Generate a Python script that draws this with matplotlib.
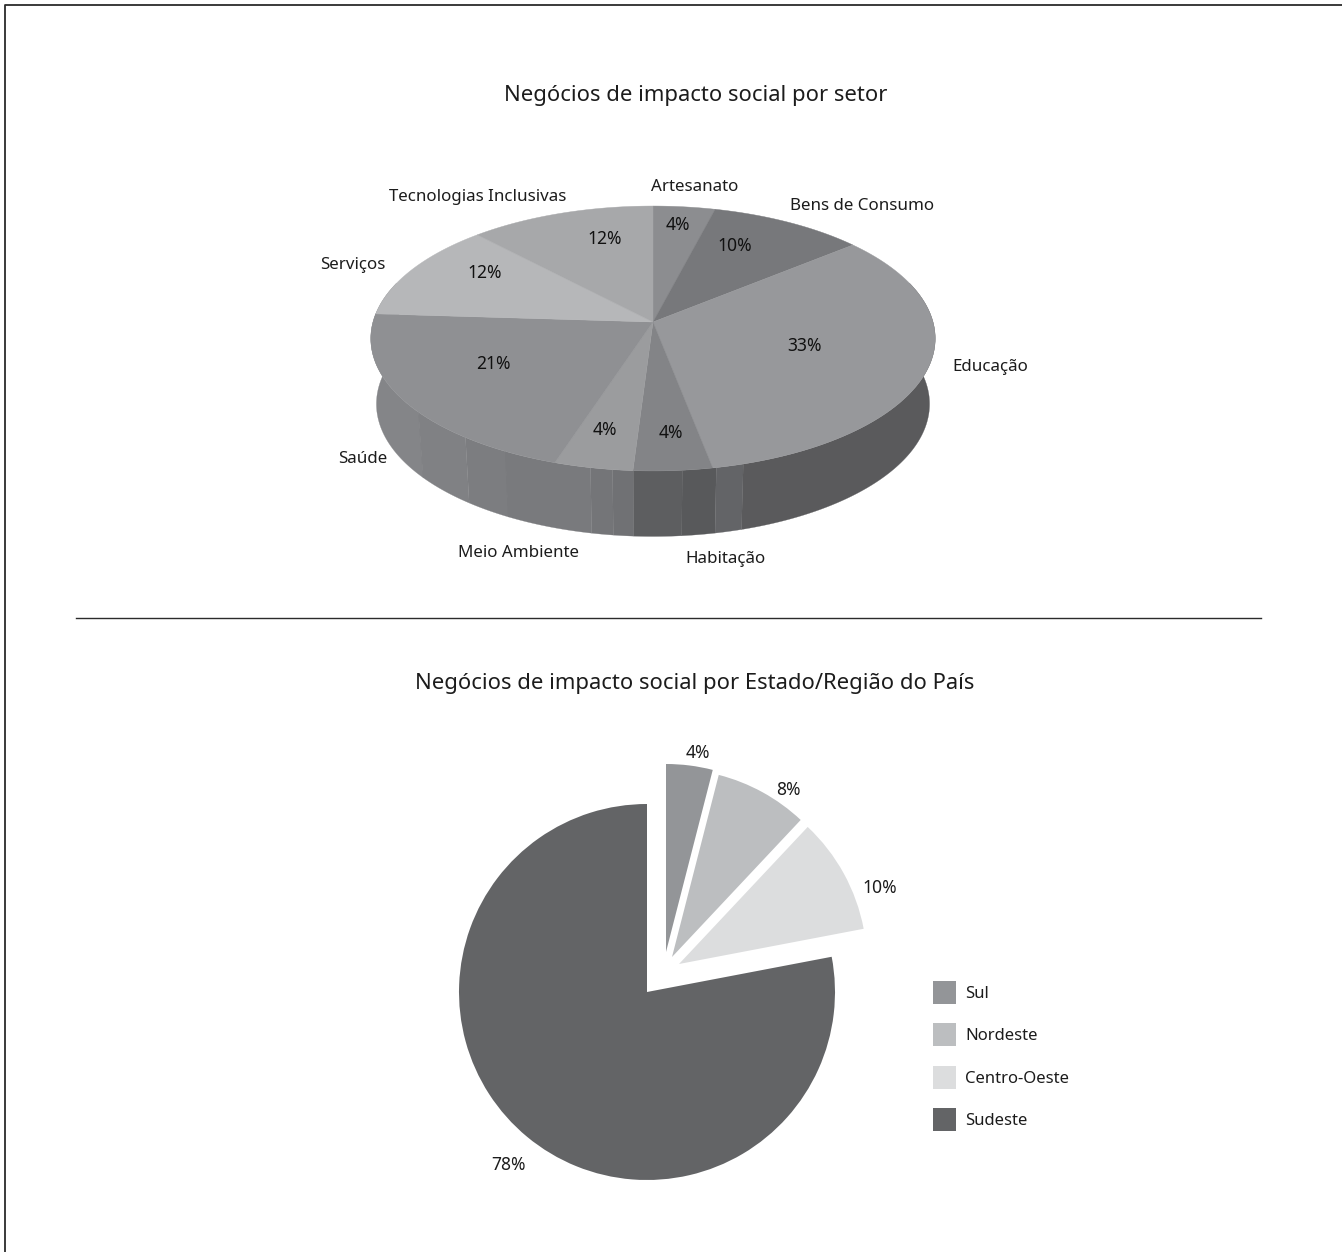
import matplotlib
matplotlib.use('Agg')
import matplotlib.pyplot as plt
import numpy as np

W, H = 1342, 1252

# data
setor_labels = ['Artesanato', 'Bens de Consumo', 'Educação', 'Habitação',
                'Meio Ambiente', 'Saúde', 'Serviços', 'Tecnologias Inclusivas']
setor_values = [4, 10, 33, 4, 4, 21, 12, 12]
regiao_labels = ['Sul', 'Nordeste', 'Centro-Oeste', 'Sudeste']
regiao_values = [4, 8, 10, 78]

# styles
setor_colors = ['#8c8d90', '#77787b', '#97989b', '#838487',
                '#9b9c9e', '#8f9093', '#b6b7b9', '#a7a8aa']
regiao_colors = ['#939598', '#bcbec0', '#dcddde', '#636466']
wall_breaks = [300, 418, 465, 505, 590, 612, 633, 682, 716, 743, 1000]
wall_colors = ['#848588', '#808184', '#7c7d80', '#797a7d', '#747578',
               '#707174', '#5d5e60', '#58595b', '#636467', '#5a5a5c']
# each exploded slice has its own shift in the source, not a radial one
regiao_shift = [(19, 40), (25, 35), (32, 28), (0, 0)]

setor_label_pos = [(651, 187), (790, 206), (952, 367), (685, 559),
                   (458, 553), (338, 459), (320, 265), (389, 197)]
setor_pct_pos = [(678, 225), (735, 246), (805, 346), (671, 433),
                 (605, 430), (493, 364), (485, 273), (605, 239)]
regiao_pct_pos = [(698, 753), (788, 790), (880, 888), (509, 1165)]

TEXT = '#1c1c1c'
plt.rcParams['font.family'] = ['Noto Sans', 'DejaVu Sans']


def py(y):
    """Image row to axes y."""
    return H - y


def persp(theta, depth=0.0, shrink=1.0):
    """Tilted disc with perspective. theta is clockwise from the top, in radians."""
    x, y = np.sin(theta), np.cos(theta)
    d = 1 + 0.1245 * y
    return 653 + shrink * 280 * x / d, 322 + depth - 130.4 * y / d


fig = plt.figure(figsize=(W / 100, H / 100), dpi=100)
ax = fig.add_axes([0, 0, 1, 1])

# lower pie
center = (647, py(992))
wedges, _ = ax.pie(regiao_values, colors=regiao_colors, startangle=90, counterclock=False,
                   radius=188, center=center)
for w, (dx, dy) in zip(wedges, regiao_shift):
    w.set_center((center[0] + dx, center[1] + dy))
    w.set_linewidth(0)

ax.set_aspect('auto')
ax.set_xlim(0, W)
ax.set_ylim(0, H)
ax.axis('off')

# side wall of the upper pie, front half only
t = np.linspace(np.pi * 0.4, np.pi * 1.6, 1500)
top_x, top_y = persp(t)
bot_x, bot_y = persp(t, depth=65.5, shrink=0.98)
for k, col in enumerate(wall_colors):
    m = (top_x >= wall_breaks[k]) & (top_x <= wall_breaks[k + 1] + 1)
    xs = np.r_[top_x[m], bot_x[m][::-1]]
    ys = np.r_[top_y[m], bot_y[m][::-1]]
    ax.fill(xs, py(ys), color=col, lw=0.2, zorder=2)

# upper pie, top face
edges = np.cumsum([0] + setor_values) / sum(setor_values) * 2 * np.pi
for k, col in enumerate(setor_colors):
    a = np.linspace(edges[k], edges[k + 1], 80)
    x, y = persp(a)
    ax.fill(np.r_[653, x], py(np.r_[322, y]), color=col, lw=0.3, zorder=3)

for name, pos in zip(setor_labels, setor_label_pos):
    ax.text(pos[0], py(pos[1]), name, fontsize=12.2, color=TEXT, ha='left', va='center', zorder=5)
for v, pos in zip(setor_values, setor_pct_pos):
    ax.text(pos[0], py(pos[1]), f'{v}%', fontsize=12.6, color='#111111', ha='center', va='center', zorder=5)
for v, pos in zip(regiao_values, regiao_pct_pos):
    ax.text(pos[0], py(pos[1]), f'{v}%', fontsize=12.6, color=TEXT, ha='center', va='center', zorder=5)

ax.text(696, py(95), 'Negócios de impacto social por setor', fontsize=15.85, color=TEXT,
        ha='center', va='center')
ax.text(695, py(684), 'Negócios de impacto social por Estado/Região do País', fontsize=15.85,
        color=TEXT, ha='center', va='center')

ax.legend(wedges, regiao_labels, loc='upper left', bbox_to_anchor=(933, py(981)),
          bbox_transform=ax.transData, frameon=False, fontsize=12, labelcolor=TEXT,
          handlelength=1.38, handleheight=1.746, handletextpad=0.54, labelspacing=1.16,
          borderpad=0, borderaxespad=0)

# page rules
ax.plot([5, 5, W], [0, py(4.5), py(4.5)], color='#2b2b2b', lw=1.3, zorder=1)
ax.plot([76, 1261], [py(618), py(618)], color='#2b2b2b', lw=1.0, zorder=1)

fig.savefig('out.png', dpi=100, facecolor='white')
